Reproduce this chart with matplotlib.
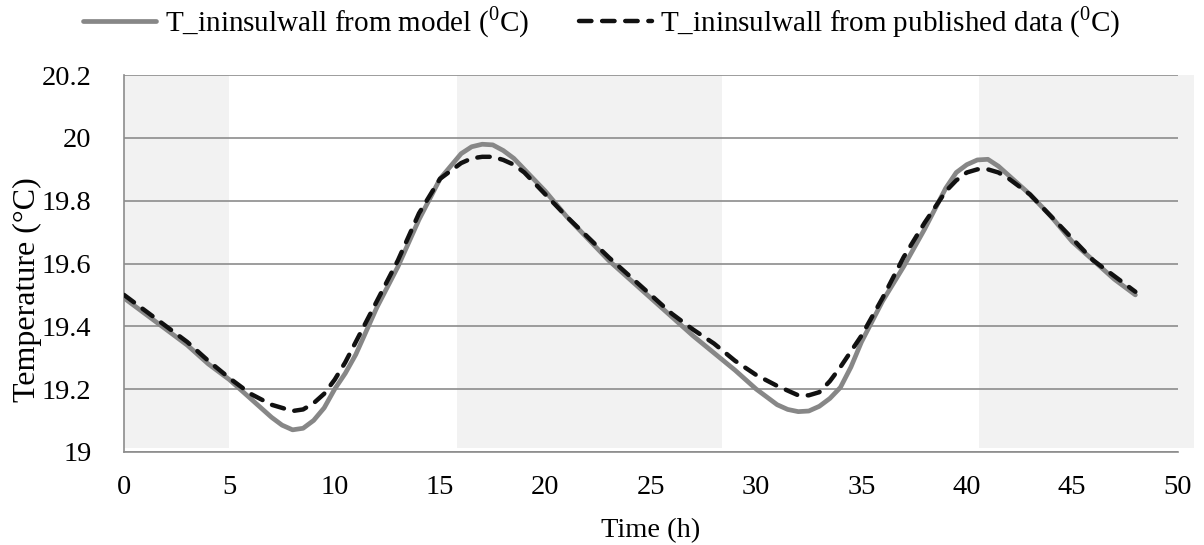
"""
Indoor insulated wall temperature: model vs published data over 48 h.
Saves out.png.
"""

import matplotlib.pyplot as plt

plt.rcParams["font.family"] = ["Liberation Serif", "DejaVu Serif"]
plt.rcParams["mathtext.fontset"] = "custom"
plt.rcParams["mathtext.rm"] = "Liberation Serif"

# time axis (h), denser round the turning points
hours = [
    0, 1, 2, 3, 4, 5, 6, 7, 7.5, 8, 8.5, 9, 9.5, 10, 10.5, 11, 12, 13, 14,
    15, 16, 16.5, 17, 17.5, 18, 18.5, 19, 20, 21, 22, 23, 24, 25, 26, 27,
    28, 29, 30, 31, 31.5, 32, 32.5, 33, 33.5, 34, 34.5, 35, 36, 37, 38, 39,
    39.5, 40, 40.5, 41, 41.5, 42, 43, 44, 45, 46, 47, 48,
]

# T_ininsulwall from model (degC)
t_model = [
    19.49, 19.44, 19.39, 19.34, 19.28, 19.23, 19.17, 19.11, 19.085, 19.07,
    19.075, 19.10, 19.14, 19.20, 19.25, 19.31, 19.46, 19.59, 19.74, 19.87,
    19.95, 19.972, 19.98, 19.978, 19.96, 19.935, 19.90, 19.83, 19.75, 19.68,
    19.61, 19.55, 19.49, 19.43, 19.37, 19.315, 19.26, 19.20, 19.15, 19.135,
    19.128, 19.13, 19.145, 19.17, 19.205, 19.27, 19.35, 19.48, 19.59, 19.71,
    19.84, 19.89, 19.915, 19.93, 19.932, 19.91, 19.88, 19.82, 19.75, 19.67,
    19.61, 19.55, 19.50,
]

# T_ininsulwall from published data (degC)
t_published = [
    19.50, 19.45, 19.40, 19.35, 19.29, 19.235, 19.185, 19.15, 19.14, 19.13,
    19.135, 19.155, 19.185, 19.23, 19.285, 19.35, 19.48, 19.61, 19.76, 19.87,
    19.92, 19.935, 19.94, 19.94, 19.93, 19.915, 19.89, 19.82, 19.75, 19.685,
    19.62, 19.56, 19.50, 19.44, 19.39, 19.345, 19.29, 19.245, 19.21, 19.195,
    19.18, 19.18, 19.19, 19.225, 19.27, 19.32, 19.37, 19.49, 19.62, 19.73,
    19.83, 19.865, 19.89, 19.90, 19.90, 19.89, 19.87, 19.82, 19.75, 19.68,
    19.61, 19.56, 19.51,
]

# shaded (night) periods, h
shade_start = [0.0, 15.8, 40.6]
shade_end = [5.0, 28.4, 50.8]

fig = plt.figure(figsize=(12.04, 5.45), dpi=100)
ax = fig.add_axes([0.103, 0.171, 0.875, 0.691])

for s, e in zip(shade_start, shade_end):
    ax.axvspan(s, e, ymin=0.01, ymax=1.0, facecolor="#f2f2f2",
               edgecolor="none", zorder=0, clip_on=False)

ax.plot(hours, t_model, color="#878787", lw=3.4, solid_capstyle="round",
        solid_joinstyle="round", zorder=3,
        label="T_ininsulwall from model ($^{0}$C)")
ax.plot(hours, t_published, color="#111111", lw=3.2, linestyle=(0, (2.8, 2.4)),
        dash_capstyle="round", dash_joinstyle="round", zorder=4,
        label="T_ininsulwall from published data ($^{0}$C)")

ax.set_xlim(0, 50)
ax.set_ylim(19, 20.2)
ax.set_xticks(range(0, 51, 5))
ax.set_yticks([19, 19.2, 19.4, 19.6, 19.8, 20, 20.2])
ax.set_yticklabels(["19", "19.2", "19.4", "19.6", "19.8", "20", "20.2"])
ax.grid(axis="y", color="#8c8c8c", lw=1.2, zorder=1)
ax.set_axisbelow(False)
ax.tick_params(length=0, labelsize=20.5)
ax.tick_params(axis="y", pad=23.5)
ax.tick_params(axis="x", pad=16.5)

for side in ["top", "right"]:
    ax.spines[side].set_visible(False)
for side in ["left", "bottom"]:
    ax.spines[side].set_color("#8c8c8c")
    ax.spines[side].set_linewidth(1.2)

ax.set_xlabel("Time (h)", fontsize=20.5, labelpad=13)
ax.set_ylabel("Temperature (\u00b0C)", fontsize=23)
ax.yaxis.set_label_coords(-0.078, 0.43)

fig.legend(loc="upper center", bbox_to_anchor=(0.5, 1.04), ncol=2,
           frameon=False, fontsize=21, handlelength=2.5, handletextpad=0.3,
           columnspacing=1.7)

fig.savefig("out.png", dpi=100)
